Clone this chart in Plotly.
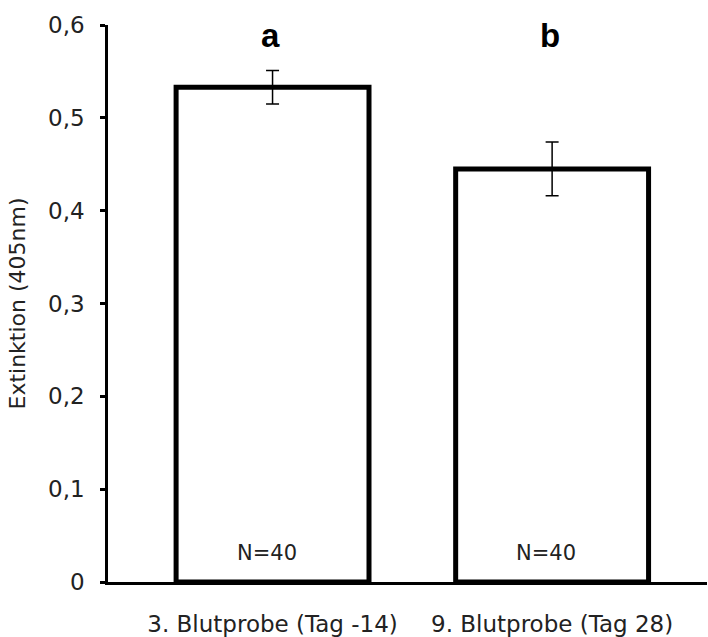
import plotly.graph_objects as go

categories = ["3. Blutprobe (Tag -14)", "9. Blutprobe (Tag 28)"]
means = [0.533, 0.445]
errors = [0.018, 0.029]
letters = ["a", "b"]
n_labels = ["N=40", "N=40"]
y_ticks = [0, 0.1, 0.2, 0.3, 0.4, 0.5, 0.6]
y_ticktext = ["0", "0,1", "0,2", "0,3", "0,4", "0,5", "0,6"]
x_pos = [0, 1]

FONT = "DejaVu Sans, Arial, sans-serif"
BOLD = "Liberation Sans, Arial, sans-serif"

fig = go.Figure()
fig.add_trace(go.Bar(
    x=x_pos, y=means, width=0.69,
    marker=dict(color="white", line=dict(color="black", width=5)),
    error_y=dict(type="data", array=errors, visible=True, color="black",
                 thickness=1.5, width=6.5),
    showlegend=False,
))

for xp, m, e, lt, nl in zip(x_pos, means, errors, letters, n_labels):
    fig.add_annotation(x=xp, y=0.589, text=lt, showarrow=False,
                       font=dict(family=BOLD, size=33, color="black", weight="bold"),
                       xanchor="center", yanchor="middle", xshift=-2)
    fig.add_annotation(x=xp, y=0.031, text=nl, showarrow=False,
                       font=dict(family=FONT, size=21, color="#222"),
                       xanchor="center", yanchor="middle", xshift=-6)

fig.update_layout(
    width=708, height=637,
    margin=dict(l=108, r=1, t=25, b=55),
    plot_bgcolor="white", paper_bgcolor="white",
    font=dict(family=FONT, size=22, color="#222"),
)
fig.update_xaxes(
    range=[-0.5886, 1.554],
    tickvals=x_pos, ticktext=categories,
    showline=True, linecolor="black", linewidth=2.5,
    showgrid=False, zeroline=False, ticks="",
    tickfont=dict(family=FONT, size=23, color="#222"),
    ticklabelstandoff=20,
)
fig.update_yaxes(
    range=[0, 0.6],
    tickvals=y_ticks, ticktext=y_ticktext,
    showline=True, linecolor="black", linewidth=2.5,
    showgrid=False, zeroline=False,
    ticks="outside", ticklen=5, tickwidth=2.5, tickcolor="black",
    tickfont=dict(family=FONT, size=23, color="#222"),
    ticklabelstandoff=11,
    title=dict(text="Extinktion (405nm)", font=dict(family=FONT, size=22, color="#222"),
               standoff=17),
)

fig.write_html("out.html")
